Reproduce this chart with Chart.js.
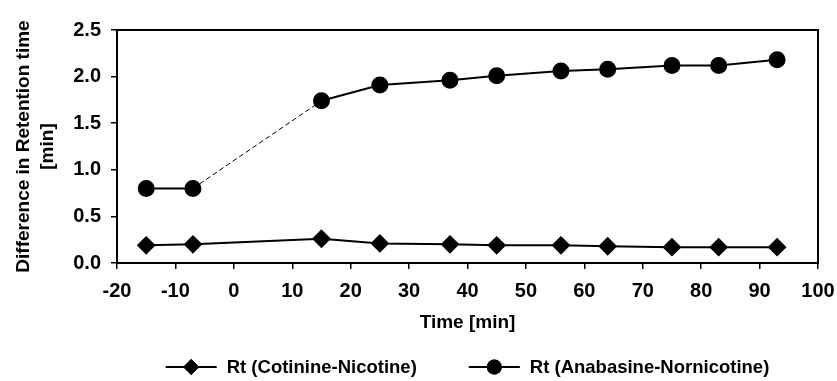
<!DOCTYPE html>
<html>
<head>
<meta charset="utf-8">
<script src="https://cdn.jsdelivr.net/npm/chart.js@4/dist/chart.umd.min.js"></script>
<style>
  html, body { margin: 0; padding: 0; background: #fff; }
  #wrap { width: 837px; height: 381px; }
</style>
</head>
<body>
<div id="wrap"><canvas id="rtChart" width="837" height="381"></canvas></div>
<script>
const timeMin = [-15, -7, 15, 25, 37, 45, 56, 64, 75, 83, 93];
const cotinineNicotine = [0.19, 0.20, 0.26, 0.21, 0.20, 0.19, 0.19, 0.18, 0.17, 0.17, 0.17];
const anabasineNornicotine = [0.80, 0.80, 1.74, 1.91, 1.96, 2.01, 2.06, 2.08, 2.12, 2.12, 2.18];
const seriesNames = ['Rt (Cotinine-Nicotine)', 'Rt (Anabasine-Nornicotine)'];
const xTicks = { min: -20, max: 100, step: 10 };
const yTicks = { min: 0, max: 2.5, step: 0.5 };

const FONT = "'Liberation Sans', Arial, sans-serif";

function toPoints(ys) {
    return timeMin.map((t, i) => ({ x: t, y: ys[i] }));
}

// box around the plot area (top and right sides have no axis of their own)
const frameBox = {
    id: 'frameBox',
    afterDatasetsDraw(chart) {
        const { ctx, chartArea: a } = chart;
        ctx.save();
        ctx.strokeStyle = '#000';
        ctx.lineWidth = 2;
        ctx.strokeRect(a.left, a.top, a.right - a.left, a.bottom - a.top);
        ctx.restore();
    }
};

// legend row under the x title, centred on the plot area, line + marker swatches
const lineLegend = {
    id: 'lineLegend',
    afterDraw(chart) {
        const { ctx, chartArea: a } = chart;
        const swW = 51, swGap = 10, itemGap = 52, y = 367;
        ctx.save();
        ctx.font = 'bold 18.5px ' + FONT;
        ctx.textBaseline = 'middle';
        const widths = chart.data.datasets.map(ds => ctx.measureText(ds.label).width);
        const total = widths.reduce((s, w) => s + swW + swGap + w, 0) + itemGap * (widths.length - 1);
        let x = (a.left + a.right) / 2 - total / 2;
        chart.data.datasets.forEach((ds, i) => {
            ctx.strokeStyle = '#000';
            ctx.lineWidth = 2;
            ctx.beginPath(); ctx.moveTo(x, y); ctx.lineTo(x + swW, y); ctx.stroke();
            Chart.helpers.drawPoint(ctx, {
                pointStyle: ds.pointStyle,
                radius: ds.pointRadius,
                borderWidth: 0,
                rotation: 0
            }, x + swW / 2, y);
            ctx.fillStyle = '#000';
            ctx.fill();
            ctx.fillText(ds.label, x + swW + swGap, y + 1);
            x += swW + swGap + widths[i] + itemGap;
        });
        ctx.restore();
    }
};

new Chart(document.getElementById('rtChart').getContext('2d'), {
    type: 'line',
    data: {
        datasets: [{
            label: seriesNames[0],
            data: toPoints(cotinineNicotine),
            borderColor: '#000',
            backgroundColor: '#000',
            borderWidth: 2,
            pointStyle: 'rectRot',
            pointRadius: 8,
            pointHoverRadius: 8,
            tension: 0
        }, {
            label: seriesNames[1],
            data: toPoints(anabasineNornicotine),
            borderColor: '#000',
            backgroundColor: '#000',
            borderWidth: 2,
            pointStyle: 'circle',
            pointRadius: 7.5,
            pointHoverRadius: 7.5,
            tension: 0,
            segment: {
                borderDash: ctx => ctx.p0DataIndex === 1 ? [5, 3] : undefined,
                borderWidth: ctx => ctx.p0DataIndex === 1 ? 1 : 2
            }
        }]
    },
    options: {
        responsive: false,
        animation: false,
        layout: { padding: { top: 30, right: 0, left: 4, bottom: 32 } },
        plugins: {
            tooltip: { enabled: false },
            legend: { display: false }
        },
        scales: {
            x: {
                type: 'linear',
                min: xTicks.min,
                max: xTicks.max,
                ticks: {
                    stepSize: xTicks.step,
                    color: '#000',
                    font: { family: FONT, size: 20, weight: 'bold' },
                    padding: 10
                },
                grid: { drawOnChartArea: false, color: '#000', lineWidth: 1.5, tickLength: 6 },
                border: { color: '#000', width: 2 },
                title: {
                    display: true,
                    text: 'Time [min]',
                    color: '#000',
                    font: { family: FONT, size: 19, weight: 'bold' },
                    padding: { top: 6, bottom: 15 }
                },
                afterFit(scale) {
                    scale.height = 86;
                    scale.paddingRight = 19;
                }
            },
            y: {
                min: yTicks.min,
                max: yTicks.max,
                ticks: {
                    stepSize: yTicks.step,
                    color: '#000',
                    font: { family: FONT, size: 20, weight: 'bold' },
                    padding: 10,
                    callback: v => v.toFixed(1)
                },
                grid: { drawOnChartArea: false, color: '#000', lineWidth: 1.5, tickLength: 6 },
                border: { color: '#000', width: 2 },
                title: {
                    display: true,
                    text: ['Difference in Retention time', '[min]'],
                    color: '#000',
                    font: { family: FONT, size: 19, weight: 'bold', lineHeight: 1.3 },
                    padding: { top: 7, bottom: 4 }
                },
                afterFit(scale) { scale.width = 113; }
            }
        }
    },
    plugins: [frameBox, lineLegend]
});
</script>
</body>
</html>
